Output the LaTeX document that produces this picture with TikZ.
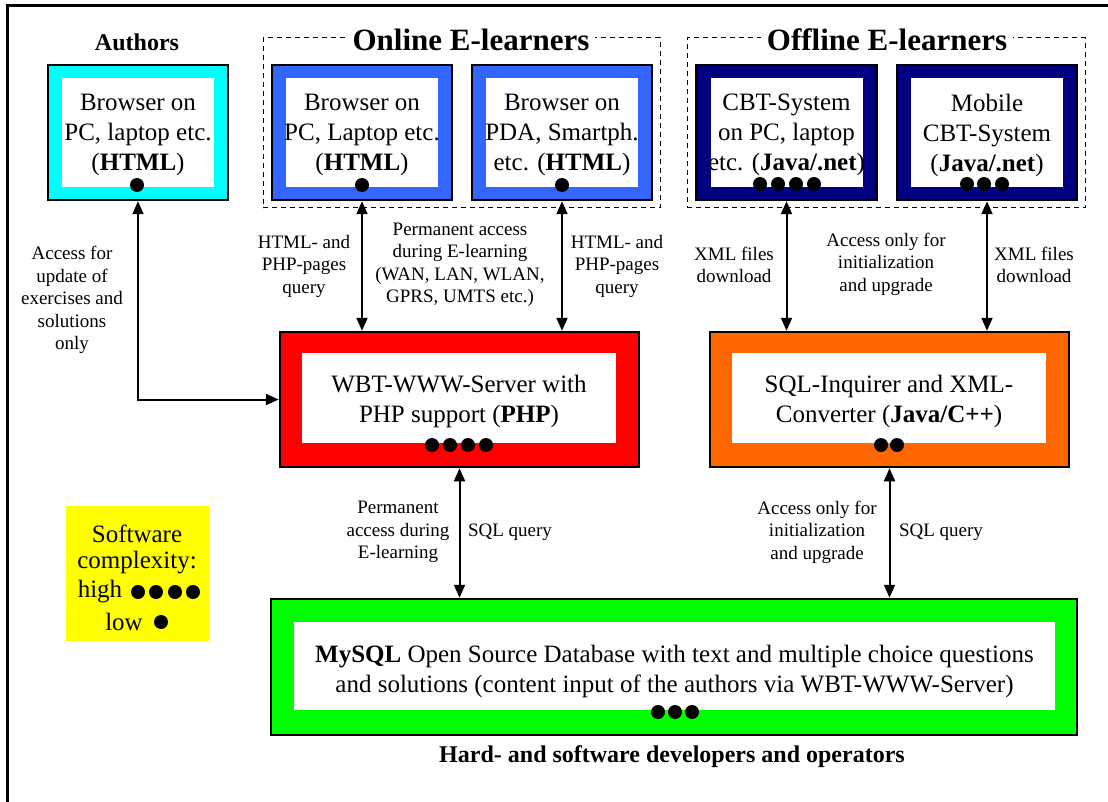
\documentclass[tikz,border=0pt]{standalone}
\usepackage{fontspec}
\setmainfont{Liberation Serif}
\usetikzlibrary{arrows.meta}
\definecolor{cyanC}{RGB}{0,255,255}
\definecolor{blueC}{RGB}{51,102,255}
\definecolor{navyC}{RGB}{0,0,128}
\definecolor{redC}{RGB}{255,0,0}
\definecolor{orangeC}{RGB}{255,102,0}
\definecolor{greenC}{RGB}{0,255,0}
\definecolor{yellowC}{RGB}{255,255,0}
\begin{document}
\begin{tikzpicture}[x=1pt,y=-1pt,
  topbox/.style={draw=black,line width=2.5pt,fill=#1,minimum width=180pt,minimum height=135pt,inner sep=0pt},
  topin/.style={fill=white,minimum width=152pt,minimum height=109pt,inner sep=0pt},
  midbox/.style={draw=black,line width=2.5pt,fill=#1,minimum width=359pt,minimum height=135pt,inner sep=0pt},
  midin/.style={fill=white,minimum width=314pt,minimum height=90pt,inner sep=0pt},
  boxtext/.style={font=\fontsize{25}{30}\selectfont,align=center,inner sep=0pt},
  lbl/.style={font=\fontsize{19}{22.5}\selectfont,align=center,inner sep=0pt},
  titl/.style={font=\fontsize{31}{36}\selectfont\bfseries,fill=white,inner sep=6pt},
  arr/.style={line width=2pt,{Triangle[length=13pt,width=11pt]}-{Triangle[length=13pt,width=11pt]}},
  grp/.style={draw=black,line width=1pt,dash pattern=on 5pt off 4pt},
  dotn/.style={circle,fill=black,minimum size=14pt,inner sep=0pt}]
\useasboundingbox (0,0) rectangle (1108,802);
\draw[line width=3pt] (7,802) -- (7,6) -- (1109,6);

% groups
\node[grp,minimum width=397pt,minimum height=170pt] (gon) at (461.5,123) {};
\node[grp,minimum width=398pt,minimum height=170pt] (goff) at (886,123) {};
\node[titl] (tOn) at (471,40) {Online E-learners};
\node[titl] (tOff) at (887,40) {Offline E-learners};
\node[font=\fontsize{24}{28}\selectfont\bfseries] (tAu) at (137,42) {Authors};

% top boxes
\node[topbox=cyanC] (auth) at (138,132.5) {};
\node[topin] at (138,132.5) {};
\node[boxtext] (authT) at (138,135) {Browser on\\PC, laptop etc.\\(\textbf{HTML})};
\node[topbox=blueC] (on1) at (362,132.5) {};
\node[topin] at (362,132.5) {};
\node[boxtext] (on1T) at (362,135) {Browser on\\PC, Laptop etc.\\(\textbf{HTML})};
\node[topbox=blueC] (on2) at (562,132.5) {};
\node[topin] at (562,132.5) {};
\node[boxtext] (on2T) at (562,135) {Browser on\\PDA, Smartph.\\etc. (\textbf{HTML})};
\node[topbox=navyC] (off1) at (786.5,132.5) {};
\node[topin] at (786.5,132.5) {};
\node[boxtext] (off1T) at (786.5,135) {CBT-System\\on PC, laptop\\etc. (\textbf{Java/.net})};
\node[topbox=navyC] (off2) at (987,132.5) {};
\node[topin] at (987,132.5) {};
\node[boxtext] (off2T) at (987,135) {Mobile\\CBT-System\\(\textbf{Java/.net})};

% middle boxes
\node[midbox=redC] (red) at (459.5,399.5) {};
\node[midin] at (459,398) {};
\node[boxtext] (redT) at (459,401) {WBT-WWW-Server with\\PHP support (\textbf{PHP})};
\node[midbox=orangeC] (org) at (889.5,399.5) {};
\node[midin] at (889,398) {};
\node[boxtext] (orgT) at (889,401) {SQL-Inquirer and XML-\\Converter (\textbf{Java/C++})};

% green
\node[draw=black,line width=2.5pt,fill=greenC,minimum width=806pt,minimum height=136pt] (db) at (674,667) {};
\node[fill=white,minimum width=761pt,minimum height=88pt,inner sep=0pt] at (674.5,666) {};
\node[boxtext] (dbT) at (674.5,671) {\textbf{MySQL} Open Source Database with text and multiple choice questions\\and solutions (content input of the authors via WBT-WWW-Server)};
\node[font=\fontsize{24}{28}\selectfont\bfseries] (dev) at (672,757) {Hard- and software developers and operators};

% dots
\node[dotn] (a1) at (137,185) {};
\node[dotn] (b1) at (362,185) {};
\node[dotn] (c1) at (562,185) {};
\foreach \x [count=\i] in {760,778,796,814} \node[dotn] (e\i) at (\x,184) {};
\foreach \x [count=\i] in {967,984,1002} \node[dotn] (f\i) at (\x,184) {};
\foreach \x [count=\i] in {432,450,468,486} \node[dotn] (g\i) at (\x,445) {};
\foreach \x [count=\i] in {881,897} \node[dotn] (h\i) at (\x,445) {};
\foreach \x [count=\i] in {658,675,692} \node[dotn] (k\i) at (\x,712) {};

% legend
\node[fill=yellowC,minimum width=143pt,minimum height=135pt,inner sep=0pt] (leg) at (137.5,573.5) {};
\node[boxtext] (l1) at (137,534) {Software};
\node[boxtext] (l2) at (137,563) {complexity:};
\node[boxtext] (l3) at (100,592) {high};
\foreach \x [count=\i] in {138,156,175,193} \node[dotn] (m\i) at (\x,592) {};
\node[boxtext] (l4) at (124,622) {low};
\node[dotn] (n1) at (161,622) {};

% arrows
\draw[arr] (auth.south) |- (red.west);
\draw[arr] (on1.south) -- (on1.south |- red.north);
\draw[arr] (on2.south) -- (on2.south |- red.north);
\draw[arr] (off1.south) -- (off1.south |- org.north);
\draw[arr] (off2.south) -- (off2.south |- org.north);
\draw[arr] (red.south) -- (red.south |- db.north);
\draw[arr] (org.south) -- (org.south |- db.north);

% labels
\node[lbl] (L1) at (72,300) {Access for\\update of\\exercises and\\solutions\\only};
\node[lbl] (L2) at (304,266) {HTML- and\\PHP-pages\\query};
\node[lbl] (L3) at (460,265) {Permanent access\\during E-learning\\(WAN, LAN, WLAN,\\GPRS, UMTS etc.)};
\node[lbl] (L4) at (617,266) {HTML- and\\PHP-pages\\query};
\node[lbl] (L5) at (734,265) {XML files\\download};
\node[lbl] (L6) at (886,264) {Access only for\\initialization\\and upgrade};
\node[lbl] (L7) at (1034,265) {XML files\\download};
\node[lbl] (L8) at (398,532) {Permanent\\access during\\E-learning};
\node[lbl] (L9) at (510,532) {SQL query};
\node[lbl] (L10) at (817,532) {Access only for\\initialization\\and upgrade};
\node[lbl] (L11) at (941,532) {SQL query};
\end{tikzpicture}
\end{document}
